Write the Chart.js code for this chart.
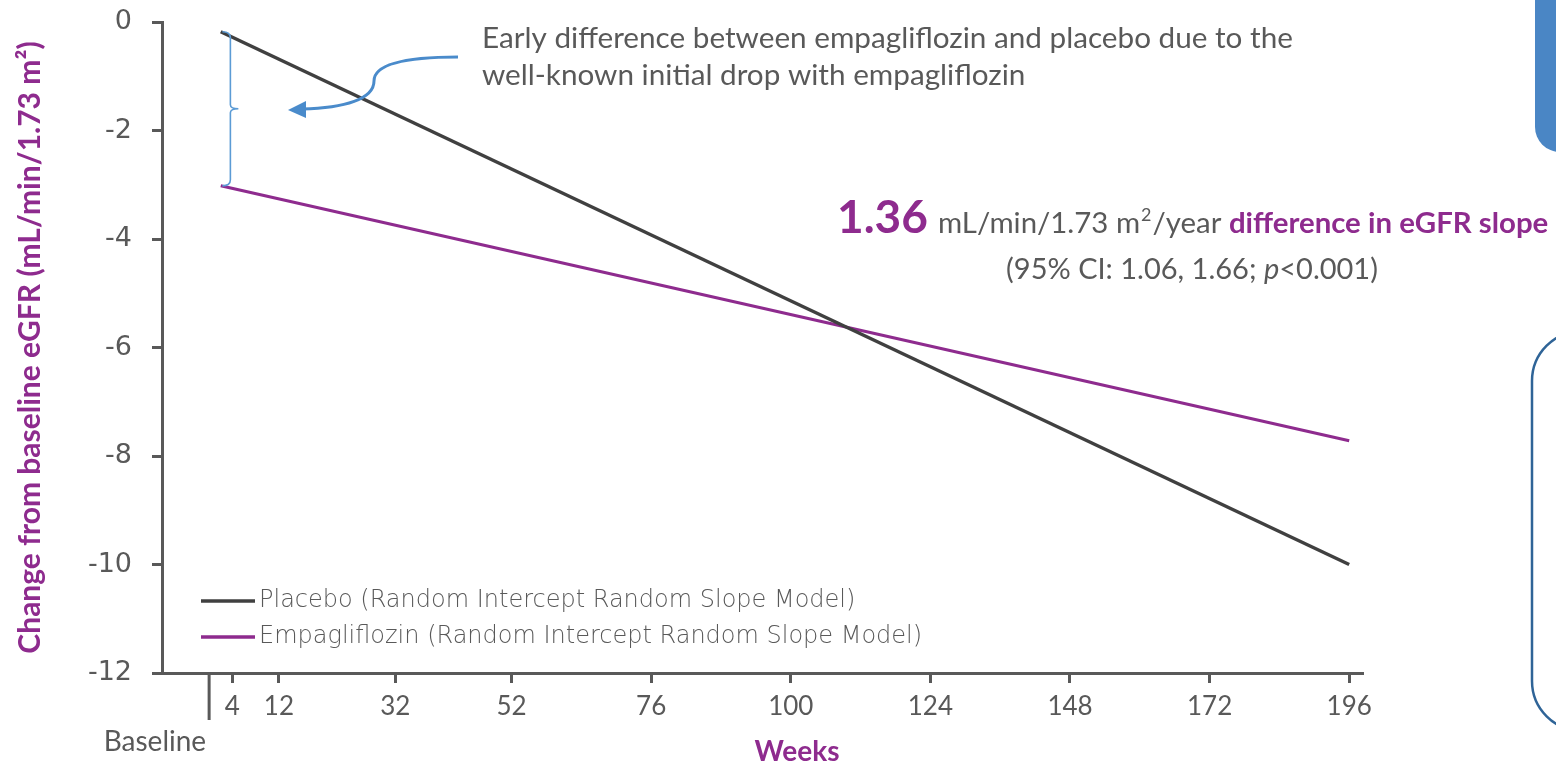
<!DOCTYPE html>
<html>
<head>
<meta charset="utf-8">
<title>Change from baseline eGFR</title>
<script src="https://cdn.jsdelivr.net/npm/chart.js@4.4.1/dist/chart.umd.min.js"></script>
<style>
  html, body { margin: 0; padding: 0; background: #ffffff; }
  #wrap { position: relative; width: 1556px; height: 767px; }
</style>
</head>
<body>
<div id="wrap"><canvas id="c" width="1556" height="767"></canvas></div>
<script>
// ---- data ----
const weekTicks = [4, 12, 32, 52, 76, 100, 124, 148, 172, 196];
const baselineWeek = 0;
const weeks = [2, 196];
const placebo = [-0.18, -10.0];
const empagliflozin = [-3.02, -7.72];
const seriesNames = [
  'Placebo (Random Intercept Random Slope Model)',
  'Empagliflozin (Random Intercept Random Slope Model)'
];
const slopeDiff = '1.36';
const slopeCI = ['1.06', '1.66'];
const pText = '<0.001';

// ---- styling ----
const GRAY = '#595959';
const DARK = '#404040';
const PURPLE = '#8E2B8E';
const BLUE = '#4A8BCB';
const ROUND_FONT = '"DejaVu Sans"';

const toPoints = (xs, ys) => xs.map((w, i) => ({ x: w, y: ys[i] }));

function roundRectPath(ctx, x, y, w, h, r) {
  ctx.beginPath();
  ctx.moveTo(x + r, y);
  ctx.lineTo(x + w - r, y);
  ctx.arcTo(x + w, y, x + w, y + r, r);
  ctx.lineTo(x + w, y + h - r);
  ctx.arcTo(x + w, y + h, x + w - r, y + h, r);
  ctx.lineTo(x + r, y + h);
  ctx.arcTo(x, y + h, x, y + h - r, r);
  ctx.lineTo(x, y + r);
  ctx.arcTo(x, y, x + r, y, r);
  ctx.closePath();
}

// Annotations, legend, baseline marker and side panels
const decor = {
  id: 'decor',
  afterDraw(chart) {
    const { ctx, chartArea, scales: { x, y } } = chart;
    ctx.save();

    // Baseline marker below the axis
    const bx = x.getPixelForValue(baselineWeek);
    ctx.strokeStyle = GRAY;
    ctx.lineWidth = 3;
    ctx.beginPath();
    ctx.moveTo(bx, chartArea.bottom + 2);
    ctx.lineTo(bx, chartArea.bottom + 47);
    ctx.stroke();
    ctx.fillStyle = GRAY;
    ctx.font = '28px Lato';
    ctx.textAlign = 'right';
    ctx.textBaseline = 'middle';
    ctx.fillText('Baseline', bx - 3, 742);

    // x-axis title
    ctx.fillStyle = PURPLE;
    ctx.font = 'bold 28px Lato';
    ctx.textAlign = 'center';
    ctx.fillText('Weeks', 797, 752);

    // Legend
    const legendColors = [DARK, PURPLE];
    const legendY = [601, 637];
    seriesNames.forEach((name, i) => {
      ctx.strokeStyle = legendColors[i];
      ctx.lineWidth = 3.5;
      ctx.beginPath();
      ctx.moveTo(201, legendY[i]);
      ctx.lineTo(255, legendY[i]);
      ctx.stroke();
      ctx.fillStyle = GRAY;
      ctx.font = '200 24px ' + ROUND_FONT;
      ctx.textAlign = 'left';
      ctx.fillText(name, 259, legendY[i]);
    });

    // Brace spanning the early gap between the two lines
    const brX = x.getPixelForValue(weekTicks[0]) - 2;
    const yTop = y.getPixelForValue(placebo[0]);
    const yBot = y.getPixelForValue(empagliflozin[0]);
    const yMid = (yTop + yBot) / 2;
    ctx.strokeStyle = '#5B9BD5';
    ctx.lineWidth = 1.6;
    ctx.beginPath();
    ctx.moveTo(brX - 8, yTop);
    ctx.quadraticCurveTo(brX, yTop, brX, yTop + 6);
    ctx.lineTo(brX, yMid - 4);
    ctx.quadraticCurveTo(brX, yMid, brX + 8, yMid);
    ctx.quadraticCurveTo(brX, yMid, brX, yMid + 4);
    ctx.lineTo(brX, yBot - 6);
    ctx.quadraticCurveTo(brX, yBot, brX - 8, yBot);
    ctx.stroke();

    // Curved callout arrow
    ctx.strokeStyle = BLUE;
    ctx.fillStyle = BLUE;
    ctx.lineWidth = 3;
    ctx.beginPath();
    ctx.moveTo(458, 57);
    ctx.bezierCurveTo(405, 57, 374, 64, 374, 81);
    ctx.bezierCurveTo(374, 99, 345, 108, 302, 109);
    ctx.stroke();
    ctx.beginPath();
    ctx.moveTo(288, 110);
    ctx.lineTo(306, 101);
    ctx.lineTo(306, 118);
    ctx.closePath();
    ctx.fill();

    // Callout text
    ctx.fillStyle = GRAY;
    ctx.font = '29.7px Lato';
    ctx.textAlign = 'left';
    ctx.textBaseline = 'alphabetic';
    ctx.fillText('Early difference between empagliflozin and placebo due to the', 482, 48);
    ctx.fillText('well-known initial drop with empagliflozin', 482, 85);

    // Slope difference statement
    let cx = 837;
    const base = 233;
    ctx.fillStyle = PURPLE;
    ctx.font = 'bold 46px Lato';
    ctx.fillText(slopeDiff, cx, base);
    cx += ctx.measureText(slopeDiff).width + 10;
    ctx.fillStyle = GRAY;
    ctx.font = '29.4px Lato';
    ctx.fillText('mL/min/1.73 m', cx, base);
    cx += ctx.measureText('mL/min/1.73 m').width + 1;
    ctx.font = '18px Lato';
    ctx.fillText('2', cx, base - 12);
    cx += ctx.measureText('2').width + 1;
    ctx.font = '29.4px Lato';
    ctx.fillText('/year ', cx, base);
    cx += ctx.measureText('/year ').width;
    ctx.fillStyle = PURPLE;
    ctx.font = 'bold 29.4px Lato';
    ctx.fillText('difference in eGFR slope', cx, base);

    // Confidence interval line, centred
    const partA = '(95% CI: ' + slopeCI[0] + ', ' + slopeCI[1] + '; ';
    const partB = 'p';
    const partC = pText + ')';
    ctx.fillStyle = GRAY;
    ctx.font = '29px Lato';
    const wA = ctx.measureText(partA).width;
    const wC = ctx.measureText(partC).width;
    ctx.font = 'italic 29px Lato';
    const wB = ctx.measureText(partB).width;
    let sx = 1192 - (wA + wB + wC) / 2;
    const base2 = 279;
    ctx.font = '29px Lato';
    ctx.fillText(partA, sx, base2);
    sx += wA;
    ctx.font = 'italic 29px Lato';
    ctx.fillText(partB, sx, base2);
    sx += wB;
    ctx.font = '29px Lato';
    ctx.fillText(partC, sx, base2);

    // Side panels at the right edge
    ctx.fillStyle = '#4A86C5';
    roundRectPath(ctx, 1535, -40, 80, 192, 25);
    ctx.fill();
    ctx.strokeStyle = '#2F6497';
    ctx.lineWidth = 2.5;
    roundRectPath(ctx, 1532, 331, 120, 400, 50);
    ctx.stroke();

    ctx.restore();
  }
};

const axisGrid = {
  drawOnChartArea: false,
  drawTicks: true,
  tickLength: 10,
  color: GRAY,
  lineWidth: 3
};

new Chart(document.getElementById('c'), {
  type: 'line',
  data: {
    datasets: [
      {
        label: seriesNames[0],
        data: toPoints(weeks, placebo),
        borderColor: DARK,
        borderWidth: 3.5,
        pointRadius: 0,
        clip: false
      },
      {
        label: seriesNames[1],
        data: toPoints(weeks, empagliflozin),
        borderColor: PURPLE,
        borderWidth: 3,
        pointRadius: 0,
        clip: false
      }
    ]
  },
  options: {
    responsive: false,
    animation: false,
    events: [],
    layout: { padding: { top: 22, right: 194, left: 0, bottom: 0 } },
    plugins: { legend: { display: false }, tooltip: { enabled: false } },
    scales: {
      x: {
        type: 'linear',
        min: -8.1,
        max: 198.2,
        afterBuildTicks: (scale) => { scale.ticks = weekTicks.map(v => ({ value: v })); },
        afterFit: (scale) => { scale.height = 94; scale.paddingLeft = 0; scale.paddingRight = 0; },
        ticks: {
          autoSkip: false,
          maxRotation: 0,
          padding: 8,
          color: GRAY,
          font: { family: 'Lato', size: 26 }
        },
        grid: axisGrid,
        border: { display: true, color: GRAY, width: 3 }
      },
      y: {
        min: -12,
        max: 0,
        afterFit: (scale) => { scale.width = 162; scale.paddingTop = 0; scale.paddingBottom = 0; },
        ticks: {
          stepSize: 2,
          padding: 20,
          color: GRAY,
          font: { family: 'DejaVu Sans', size: 27, weight: 'normal' }
        },
        grid: axisGrid,
        border: { display: true, color: GRAY, width: 3 },
        title: {
          display: true,
          text: 'Change from baseline eGFR (mL/min/1.73 m²)',
          color: PURPLE,
          font: { family: 'Lato', size: 30, weight: 'bold' },
          padding: { top: 12, bottom: 0 }
        }
      }
    }
  },
  plugins: [decor]
});
</script>
</body>
</html>
